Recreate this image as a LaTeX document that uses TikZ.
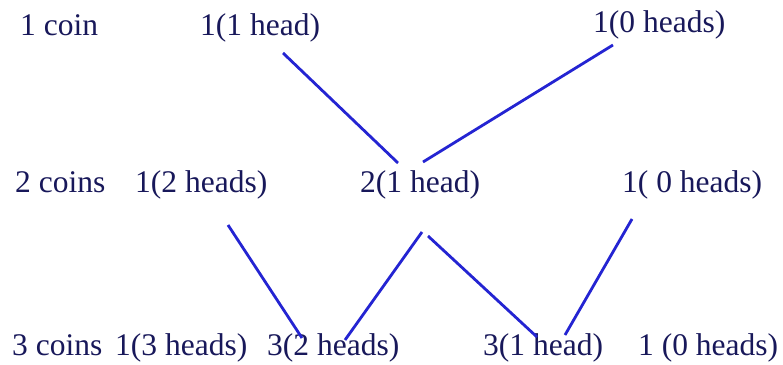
\documentclass[tikz,border=0pt]{standalone}
\usepackage{fontspec}
\setmainfont{Liberation Serif}
\definecolor{txtnavy}{HTML}{18185A}
\definecolor{lineblue}{HTML}{2424D2}
\begin{document}
\begin{tikzpicture}[x=1pt,y=1pt,
  lbl/.style={anchor=base west,inner sep=0pt,text=txtnavy,font=\fontsize{31.5}{33}\selectfont},
  link/.style={draw=lineblue,line width=2.8pt}]
\useasboundingbox[fill=white] (0,0) rectangle (783,364);
% row 1
\node[lbl] (c1) at (20,328) {1 coin};
\node[lbl] (a1) at (200,328) {1(1 head)};
\node[lbl] (a0) at (593,331) {1(0 heads)};
% row 2
\node[lbl] (c2) at (15,171) {2 coins};
\node[lbl] (b2) at (135,171) {1(2 heads)};
\node[lbl] (b1) at (360,171) {2(1 head)};
\node[lbl] (b0) at (622,171) {1( 0 heads)};
% row 3
\node[lbl] (c3) at (12,9) {3 coins};
\node[lbl] (d3) at (115,9) {1(3 heads)};
\node[lbl] (d2) at (267,9) {3(2 heads)};
\node[lbl] (d1) at (483,9) {3(1 head)};
\node[lbl] (d0) at (638,9) {1 (0 heads)};
% connectors
\draw[link] ([shift={(83,-17)}]a1.base west) -- ([shift={(38,30)}]b1.base west);
\draw[link] ([shift={(20,-12)}]a0.base west) -- ([shift={(63,31)}]b1.base west);
\draw[link] ([shift={(93,-32)}]b2.base west) -- ([shift={(35,17)}]d2.base west);
\draw[link] ([shift={(62,-39)}]b1.base west) -- ([shift={(78,15)}]d2.base west);
\draw[link] ([shift={(68,-43)}]b1.base west) -- ([shift={(54,18)}]d1.base west);
\draw[link] ([shift={(10,-26)}]b0.base west) -- ([shift={(82,20)}]d1.base west);
\end{tikzpicture}
\end{document}
